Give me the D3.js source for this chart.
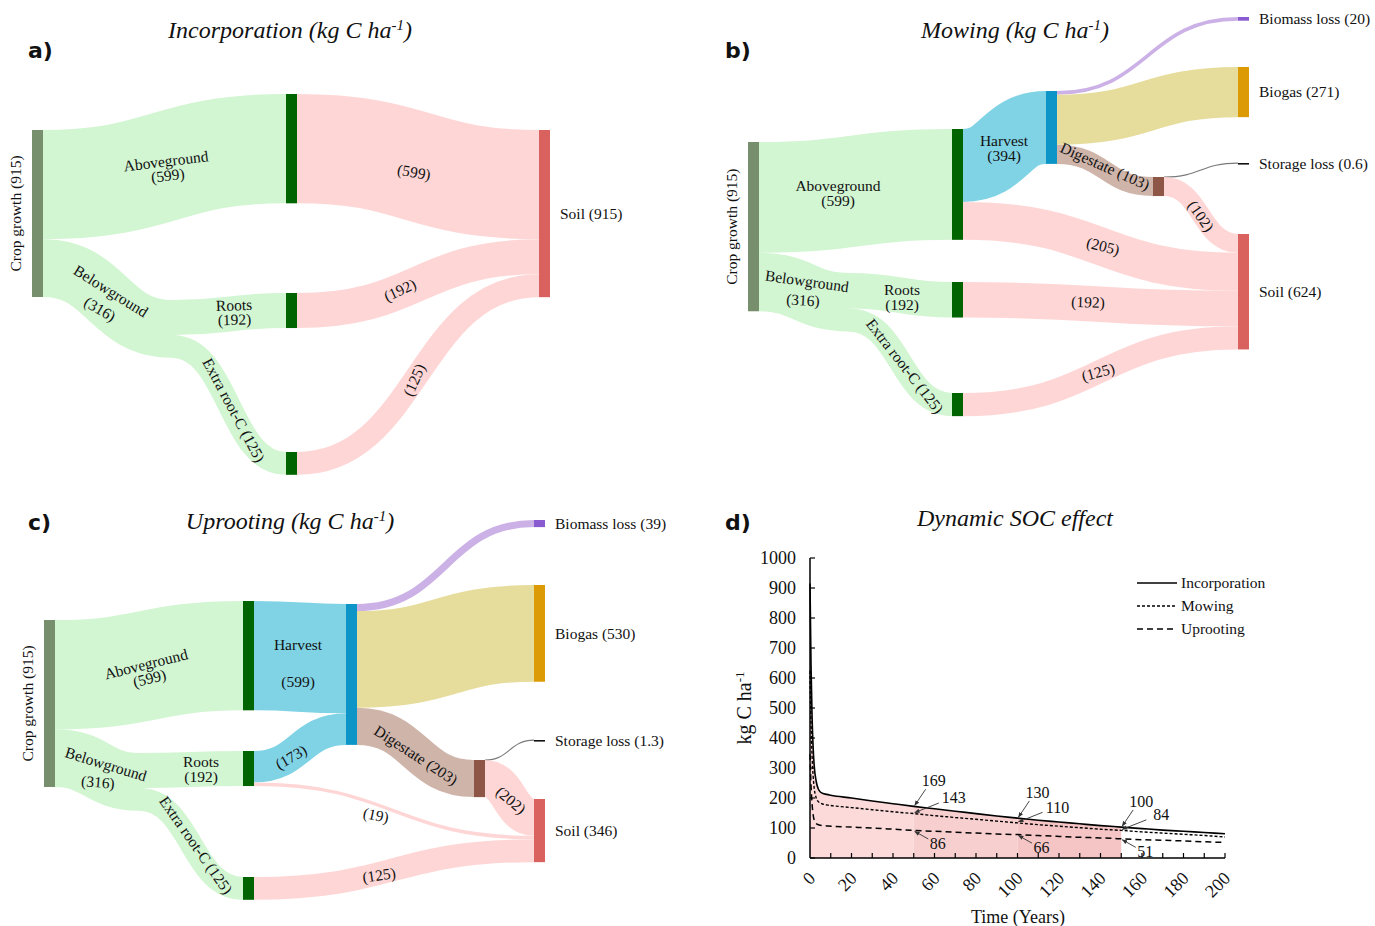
<!DOCTYPE html>
<html><head><meta charset="utf-8">
<script src="https://cdn.jsdelivr.net/npm/d3@7"></script>
<style>
body{margin:0;background:#fff}
svg text{font-family:"Liberation Serif","Times New Roman",serif;fill:#111}
</style></head>
<body><svg id="chart" width="1375" height="926"></svg>
<script>
// ================= DATA =================
// Sankey a) Incorporation
const incorpNodes = [
  {id:"Crop growth", total:915}, {id:"Aboveground", total:599}, {id:"Belowground", total:316},
  {id:"Roots", total:192}, {id:"Extra root-C", total:125}, {id:"Soil", total:915}];
const incorpLinks = [
  ["Crop growth","Aboveground",599], ["Crop growth","Belowground",316],
  ["Belowground","Roots",192], ["Belowground","Extra root-C",125],
  ["Aboveground","Soil",599], ["Roots","Soil",192], ["Extra root-C","Soil",125]];

// Sankey b) Mowing
const mowNodes = [
  {id:"Crop growth", total:915}, {id:"Aboveground", total:599}, {id:"Belowground", total:316},
  {id:"Roots", total:192}, {id:"Extra root-C", total:125}, {id:"Harvest", total:394},
  {id:"Biomass loss", total:20}, {id:"Biogas", total:271}, {id:"Digestate", total:103},
  {id:"Storage loss", total:0.6}, {id:"Soil", total:624}];
const mowLinks = [
  ["Crop growth","Aboveground",599], ["Crop growth","Belowground",316],
  ["Belowground","Roots",192], ["Belowground","Extra root-C",125],
  ["Aboveground","Harvest",394],
  ["Harvest","Biomass loss",20], ["Harvest","Biogas",271], ["Harvest","Digestate",103],
  ["Digestate","Storage loss",0.6], ["Digestate","Soil",102],
  ["Aboveground","Soil",205], ["Roots","Soil",192], ["Extra root-C","Soil",125]];

// Sankey c) Uprooting
const uprootNodes = [
  {id:"Crop growth", total:915}, {id:"Aboveground", total:599}, {id:"Belowground", total:316},
  {id:"Roots", total:192}, {id:"Extra root-C", total:125}, {id:"Harvest", total:772},
  {id:"Biomass loss", total:39}, {id:"Biogas", total:530}, {id:"Digestate", total:203},
  {id:"Storage loss", total:1.3}, {id:"Soil", total:346}];
const uprootLinks = [
  ["Crop growth","Aboveground",599], ["Crop growth","Belowground",316],
  ["Belowground","Roots",192], ["Belowground","Extra root-C",125],
  ["Aboveground","Harvest",599], ["Roots","Harvest",173],
  ["Harvest","Biomass loss",39], ["Harvest","Biogas",530], ["Harvest","Digestate",203],
  ["Digestate","Storage loss",1.3], ["Digestate","Soil",202],
  ["Roots","Soil",19], ["Extra root-C","Soil",125]];

// Panel d) Dynamic SOC effect (years, kg C ha-1)
const years = [0,0.5,1,1.5,2,3,4,5,6,8,10,20,30,40,50,60,70,80,90,100,110,120,130,140,150,160,170,180,190,200];
const socIncorporation = [915,640,470,370,310,255,230,220,216,212,209,200,190,181,172,164,156,148,140,133,126,120,114,108,103,98,93,89,85,81];
const socMowing        = [624,450,340,275,235,200,188,183,180,177,175,168,161,154,148,141,135,129,123,117,111,106,101,96,92,87,83,79,75,70];
const socUprooting     = [346,240,180,145,127,115,111,109,108,107,106,103,100,96,92,89,86,83,80,78,75,72,69,67,64,61,59,57,54,52];
const seriesNames = ["Incorporation","Mowing","Uprooting"];
const annotYears = [50,100,150];
const annotIncorporation = [169,130,100];
const annotMowing = [143,110,84];
const annotUprooting = [86,66,51];
const yTicks = [0,100,200,300,400,500,600,700,800,900,1000];
const xTickLabels = [0,20,40,60,80,100,120,140,160,180,200];

// ================= LAYOUT / STYLE =================
const svg = d3.select("#chart");
const nodeColor = {"Crop growth":"#778f6c","Aboveground":"#006400","Roots":"#006400","Extra root-C":"#006400",
  "Harvest":"#0e95c8","Biomass loss":"#8a5bd0","Biogas":"#dc9a05","Digestate":"#8e5646",
  "Storage loss":"#111","Soil":"#d9625f"};
const linkColor = {"Aboveground":"#d2f5d2","Belowground":"#d2f5d2","Roots":"#d2f5d2","Extra root-C":"#d2f5d2",
  "Harvest":"#80d3e5","Biomass loss":"#cbb1e6","Biogas":"#e6dc9b","Digestate":"#cfb4a9",
  "Storage loss":"#7a7a7a","Soil":"#ffd6d6"};

const layoutA = {"Crop growth":{x:32,y:130},"Aboveground":{x:286,y:94},"Belowground":{x:172,y:300,w:0},
  "Roots":{x:286,y:293},"Extra root-C":{x:286,y:452},"Soil":{x:539,y:130}};
const layoutB = {"Crop growth":{x:748,y:142},"Aboveground":{x:952,y:129},"Belowground":{x:849,y:273,w:0},
  "Roots":{x:952,y:282},"Extra root-C":{x:952,y:393},"Harvest":{x:1046,y:91},"Biomass loss":{x:1238,y:17},
  "Biogas":{x:1238,y:67},"Digestate":{x:1153,y:177},"Storage loss":{x:1238,y:163},"Soil":{x:1238,y:234}};
const layoutC = {"Crop growth":{x:44,y:620},"Aboveground":{x:243,y:601},"Belowground":{x:139,y:753,w:0},
  "Roots":{x:243,y:751},"Extra root-C":{x:243,y:877},"Harvest":{x:346,y:604},"Biomass loss":{x:534,y:520},
  "Biogas":{x:534,y:585},"Digestate":{x:474,y:760},"Storage loss":{x:534,y:740},"Soil":{x:534,y:799}};

const labelsA = [
  {t:["Aboveground","(599)"],x:166,y:161,r:-7},
  {t:["Belowground"],x:111,y:291,r:32},{t:["(316)"],x:100,y:309,r:30},
  {t:["Roots","(192)"],x:234,y:305,r:-2},
  {t:["Extra root-C (125)"],x:234,y:410,r:62},
  {t:["(599)"],x:414,y:172,r:10},{t:["(192)"],x:400,y:290,r:-25},{t:["(125)"],x:414,y:380,r:-66}];
const labelsB = [
  {t:["Aboveground","(599)"],x:838,y:186,r:0},
  {t:["Belowground"],x:807,y:281,r:8},{t:["(316)"],x:803,y:300,r:3},
  {t:["Roots","(192)"],x:902,y:290,r:0},
  {t:["Extra root-C (125)"],x:905,y:366,r:52},
  {t:["Harvest","(394)"],x:1004,y:141,r:0},
  {t:["Digestate (103)"],x:1105,y:166,r:24},
  {t:["(102)"],x:1201,y:216,r:55},{t:["(205)"],x:1103,y:246,r:14},
  {t:["(192)"],x:1088,y:302,r:2},{t:["(125)"],x:1098,y:372,r:-15}];
const labelsC = [
  {t:["Aboveground","(599)"],x:146,y:664,r:-14},
  {t:["Belowground"],x:106,y:764,r:17},{t:["(316)"],x:98,y:782,r:5},
  {t:["Roots","(192)"],x:201,y:762,r:0},
  {t:["Extra root-C (125)"],x:196,y:845,r:55},
  {t:["Harvest"],x:298,y:645,r:0},{t:["(599)"],x:298,y:682,r:0},
  {t:["(173)"],x:291,y:757,r:-30},{t:["(19)"],x:376,y:815,r:12},{t:["(125)"],x:379,y:875,r:-8},
  {t:["Digestate (203)"],x:416,y:755,r:33},{t:["(202)"],x:511,y:800,r:40}];

const fmt = v => String(+v.toFixed(1));

function drawSankey(nodes, links, layout, k, labels){
  const g = svg.append("g");
  const px = d3.scaleLinear().domain([0,1]).range([0,k]);
  const N = new Map(nodes.map(n => [n.id, Object.assign({}, n, {w:11}, layout[n.id], {inS:0,outS:0,inO:0,outO:0})]));
  links.forEach(([s,t,v]) => { N.get(s).outS += v; N.get(t).inS += v; });
  const gen = d3.linkHorizontal();
  const lg = g.append("g");
  links.forEach(([s,t,v]) => {
    const S = N.get(s), T = N.get(t), lw = px(v);
    const y0 = S.y + S.outO + lw/2; S.outO += lw;
    const y1 = T.y + T.inO + lw/2; T.inO += lw;
    const thin = lw < 1;
    lg.append("path").attr("d", gen({source:[S.x + S.w, y0], target:[T.x, y1]}))
      .attr("fill","none").attr("stroke", linkColor[t])
      .attr("stroke-width", thin ? 1.2 : lw);
  });
  N.forEach(n => {
    if (n.w === 0) return;
    const h = Math.max(px(Math.max(n.inS, n.outS)), 1.6);
    g.append("rect").attr("x", n.x).attr("y", n.y).attr("width", n.w).attr("height", h)
      .attr("fill", nodeColor[n.id]);
    const cy = n.y + h/2;
    if (n.outS === 0) {
      g.append("text").attr("x", n.x + n.w + 10).attr("y", cy).attr("dy","0.35em")
        .attr("font-size", 15.5).text(`${n.id} (${fmt(n.total)})`);
    } else if (n.inS === 0) {
      g.append("text").attr("transform", `translate(${n.x - 11},${cy}) rotate(-90)`)
        .attr("text-anchor","middle").attr("font-size", 15.5).text(`${n.id} (${fmt(n.total)})`);
    }
  });
  labels.forEach(l => {
    const t = g.append("text").attr("transform", `translate(${l.x},${l.y}) rotate(${l.r})`)
      .attr("text-anchor","middle").attr("font-size", 15.5);
    l.t.forEach((s,i) => t.append("tspan").attr("x",0).attr("y", i*14.5).attr("dy","0.35em").text(s));
  });
}

function title(x, y, main){
  const t = svg.append("text").attr("x", x).attr("y", y).attr("text-anchor","middle")
    .attr("font-size", 24).attr("font-style","italic");
  t.append("tspan").text(main + " (kg C ha");
  t.append("tspan").attr("baseline-shift","super").attr("font-size", 15).text("-1");
  t.append("tspan").text(")");
}
function letter(x, y, s){
  svg.append("text").attr("x",x).attr("y",y).attr("font-size",22).attr("font-weight","bold")
    .style("font-family","'DejaVu Sans',sans-serif").text(s);
}

drawSankey(incorpNodes, incorpLinks, layoutA, 0.1825, labelsA);
drawSankey(mowNodes, mowLinks, layoutB, 0.185, labelsB);
drawSankey(uprootNodes, uprootLinks, layoutC, 0.1825, labelsC);

title(290, 38, "Incorporation");
title(1015, 38, "Mowing");
title(290, 529, "Uprooting");
svg.append("text").attr("x",1015).attr("y",526).attr("text-anchor","middle")
  .attr("font-size",24).attr("font-style","italic").text("Dynamic SOC effect");
letter(28, 58, "a)"); letter(725, 58, "b)"); letter(28, 530, "c)"); letter(725, 530, "d)");

// ================= Panel d =================
const x = d3.scaleLinear().domain([0,200]).range([810,1225]);
const y = d3.scaleLinear().domain([0,1000]).range([858,558]);
const dg = svg.append("g");
const seriesData = [socIncorporation, socMowing, socUprooting].map(v => years.map((t,i) => [t, v[i]]));
const interp = (vals, t) => d3.scaleLinear().domain(years).range(vals)(t);

// shaded areas under incorporation curve
const shades = [[0,50,"#fcdada"],[50,100,"#f8cfcf"],[100,150,"#f5c4c4"]];
shades.forEach(([a,b,c]) => {
  const pts = seriesData[0].filter(d => d[0] >= a && d[0] <= b);
  dg.append("path").datum(pts)
    .attr("d", d3.area().x(d => x(d[0])).y0(y(0)).y1(d => y(d[1])).curve(d3.curveMonotoneX))
    .attr("fill", c);
});

// axes
dg.append("line").attr("x1",x(0)).attr("x2",x(200)).attr("y1",y(0)).attr("y2",y(0)).attr("stroke","#000").attr("stroke-width",1.5);
dg.append("line").attr("x1",x(0)).attr("x2",x(0)).attr("y1",y(0)).attr("y2",y(1000)).attr("stroke","#000").attr("stroke-width",1.5);
yTicks.forEach(v => {
  dg.append("line").attr("x1",x(0)).attr("x2",x(0)+5).attr("y1",y(v)).attr("y2",y(v)).attr("stroke","#000").attr("stroke-width",1.2);
  dg.append("text").attr("x",x(0)-14).attr("y",y(v)).attr("dy","0.35em").attr("text-anchor","end")
    .attr("font-size",18).text(v);
});
d3.range(10,201,10).forEach(v => {
  dg.append("line").attr("x1",x(v)).attr("x2",x(v)).attr("y1",y(0)).attr("y2",y(0)-5).attr("stroke","#000").attr("stroke-width",1.2);
});
xTickLabels.forEach(v => {
  dg.append("text").attr("transform",`translate(${x(v)+2},${y(0)+17}) rotate(-45)`)
    .attr("text-anchor","end").attr("dy","0.35em").attr("font-size",18).text(v);
});
dg.append("text").attr("x",1018).attr("y",923).attr("text-anchor","middle").attr("font-size",18).text("Time (Years)");
const yl = dg.append("text").attr("transform","translate(751,708) rotate(-90)").attr("text-anchor","middle").attr("font-size",20);
yl.append("tspan").text("kg C ha");
yl.append("tspan").attr("baseline-shift","super").attr("font-size",13).text("-1");

// lines
const dashes = [null, "3,2", "6,4"];
const widths = [1.6, 1.4, 1.5];
seriesData.forEach((d,i) => {
  dg.append("path").datum(d).attr("d", d3.line().x(p => x(p[0])).y(p => y(p[1])).curve(d3.curveMonotoneX))
    .attr("fill","none").attr("stroke","#000").attr("stroke-width",widths[i])
    .attr("stroke-dasharray", dashes[i]);
});

// legend
seriesNames.forEach((s,i) => {
  const ly = 583 + i*23;
  dg.append("line").attr("x1",1137).attr("x2",1177).attr("y1",ly).attr("y2",ly)
    .attr("stroke","#000").attr("stroke-width",widths[i]).attr("stroke-dasharray",dashes[i]);
  dg.append("text").attr("x",1181).attr("y",ly).attr("dy","0.35em").attr("font-size",15.5).text(s);
});

// annotations
svg.append("defs").append("marker").attr("id","arr").attr("viewBox","0 0 10 10").attr("refX",9).attr("refY",5)
  .attr("markerWidth",6).attr("markerHeight",6).attr("orient","auto-start-reverse")
  .append("path").attr("d","M0,1 L10,5 L0,9 z").attr("fill","#333");
const annotSets = [[annotIncorporation, socIncorporation, [18,-26]], [annotMowing, socMowing, [38,-16]], [annotUprooting, socUprooting, [22,13]]];
annotSets.forEach(([labs, vals, off]) => {
  annotYears.forEach((yr, j) => {
    const tx = x(yr), ty = y(interp(vals, yr));
    const lx = tx + off[0], ly = ty + off[1];
    dg.append("line").attr("x1", tx + off[0]*0.66).attr("y1", ty + off[1]*0.66).attr("x2", tx + 1).attr("y2", ty + (off[1] < 0 ? -1 : 1))
      .attr("stroke","#333").attr("stroke-width",0.9).attr("marker-end","url(#arr)");
    dg.append("text").attr("x", lx + 2).attr("y", ly).attr("dy","0.35em").attr("text-anchor","middle")
      .attr("font-size",16).text(labs[j]);
  });
});
</script>
</body></html>
